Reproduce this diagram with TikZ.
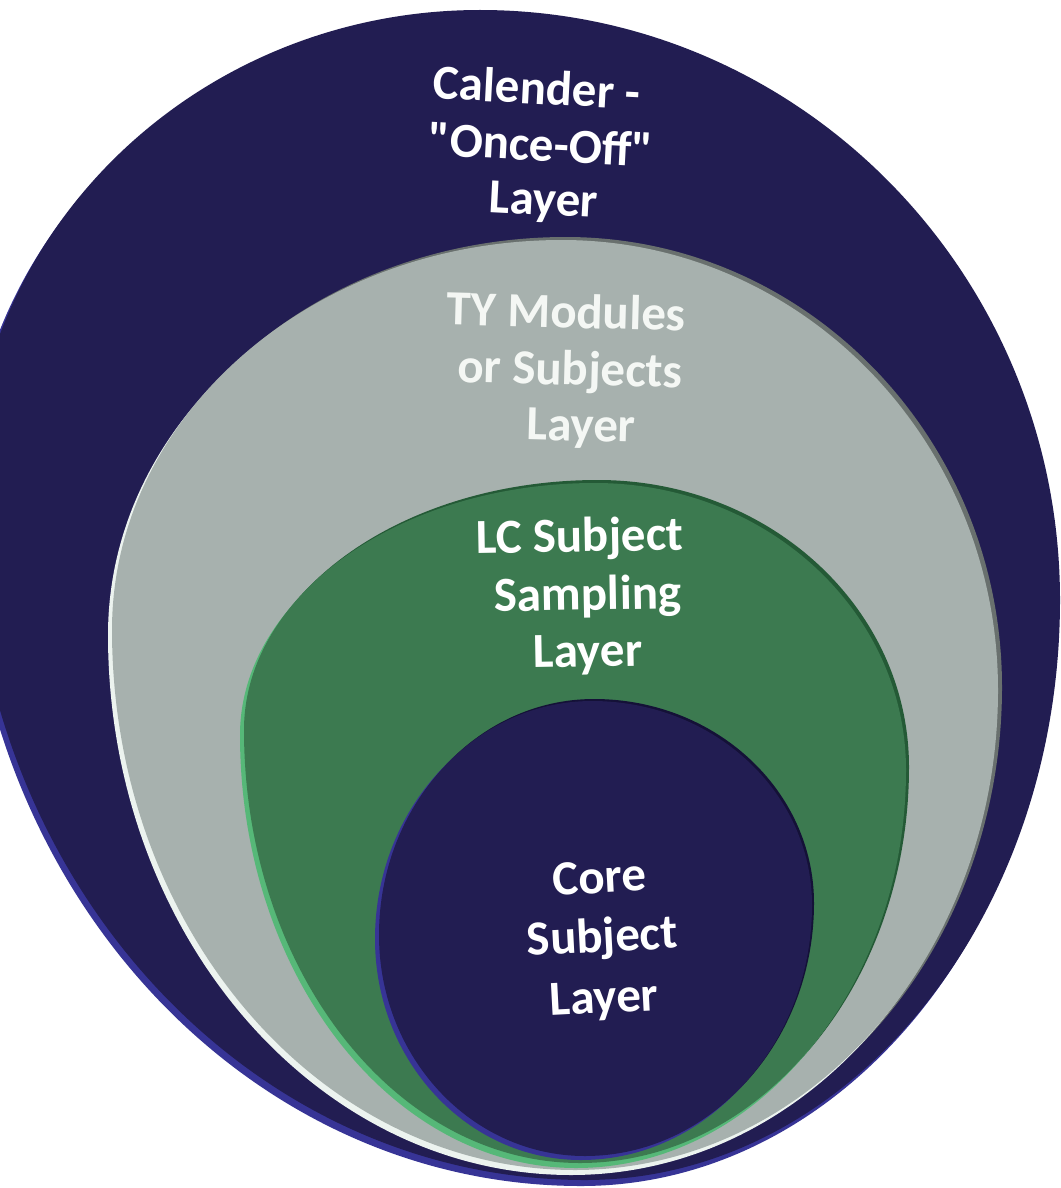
\documentclass[tikz,border=0pt]{standalone}
\usepackage{fontspec}
\setmainfont{Carlito}[Ligatures=TeXOff]
\definecolor{navy}{RGB}{34,29,82}
\definecolor{navyside}{RGB}{55,52,150}
\definecolor{navydark}{RGB}{20,17,55}
\definecolor{grayface}{RGB}{167,177,174}
\definecolor{grayhi}{RGB}{236,243,239}
\definecolor{graysh}{RGB}{105,112,110}
\definecolor{greenface}{RGB}{60,122,80}
\definecolor{greenhi}{RGB}{86,184,120}
\definecolor{greensh}{RGB}{36,90,54}
\definecolor{graytext}{RGB}{244,247,244}
\begin{document}
\begin{tikzpicture}[x=1pt,y=-1pt,
  lbl/.style={text=white,font=\bfseries\fontsize{49}{56}\selectfont,anchor=base,inner sep=0pt},
  blob/.style n args={8}{insert path={
    (#1,#2) .. controls ({(#1)+0.552*((#3)-(#1))},#2) and (#3,{(#4)-0.552*((#4)-(#2))}) ..
    (#3,#4) .. controls (#3,{(#4)+0.552*((#6)-(#4))}) and ({(#5)+0.552*((#3)-(#5))},#6) ..
    (#5,#6) .. controls ({(#5)-0.552*((#5)-(#7))},#6) and (#7,{(#8)+0.552*((#6)-(#8))}) ..
    (#7,#8) .. controls (#7,{(#8)-0.552*((#8)-(#2))}) and ({(#1)-0.552*((#1)-(#7))},#2) ..
    (#1,#2) -- cycle}},
  outerp/.style={blob={480}{10}{1060}{600}{585}{1180}{-30}{500}},
  grayp/.style={blob={562}{240}{998}{690}{575}{1170}{112}{630}},
  greenp/.style={blob={595}{483}{906}{770}{580}{1163}{244}{730}},
  corep/.style={blob={592}{701}{812}{905}{585}{1156}{379}{935}}
]
\fill[white] (0,0) rectangle (1060,1188);
\useasboundingbox (0,0) rectangle (1060,1188);
\begin{scope}
\clip (0,0) rectangle (1060,1188);
% outer disk
\fill[navyside, shift={(-4,6)}, outerp];
\fill[navy, outerp];
% gray disk
\fill[graysh, shift={(4,-3)}, grayp];
\fill[grayhi, shift={(-4,5)}, grayp];
\fill[grayface, grayp];
% green disk
\fill[greensh, shift={(3,-3)}, greenp];
\fill[greenhi, shift={(-4,5)}, greenp];
\fill[greenface, greenp];
% core disk
\fill[navydark, shift={(2,-2)}, corep];
\fill[navyside, shift={(-4,4)}, corep];
\fill[navy, corep];
\end{scope}
% labels
\node[lbl, rotate=-3] (cal1) at (536,104) {Calender -};
\node[lbl, rotate=-3] (cal2) at (540,161) {"Once-Off"};
\node[lbl, rotate=-3] (cal3) at (543,215) {Layer};
\node[lbl, rotate=-1.5, text=graytext] (ty1) at (566,328) {TY Modules};
\node[lbl, rotate=-1.5, text=graytext] (ty2) at (570,385) {or Subjects};
\node[lbl, rotate=-1.5, text=graytext] (ty3) at (581,441) {Layer};
\node[lbl, rotate=1] (lc1) at (580,552) {LC Subject};
\node[lbl, rotate=1] (lc2) at (588,610) {Sampling};
\node[lbl, rotate=1] (lc3) at (588,667) {Layer};
\node[lbl, rotate=3] (co1) at (600,893) {Core};
\node[lbl, rotate=3] (co2) at (603,952) {Subject};
\node[lbl, rotate=3] (co3) at (605,1013) {Layer};
\end{tikzpicture}
\end{document}
